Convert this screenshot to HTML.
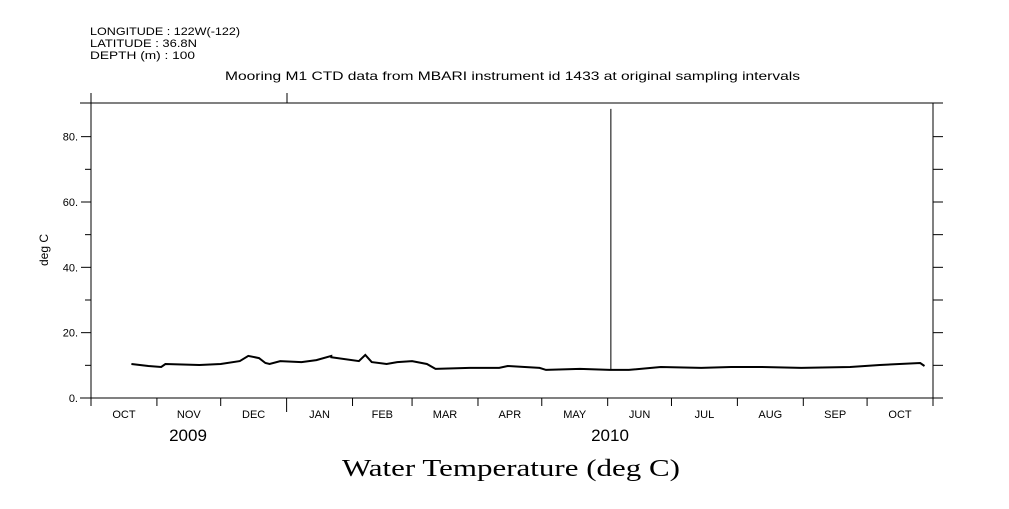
<!DOCTYPE html>
<html><head><meta charset="utf-8"><style>
body{margin:0;background:#fff}
svg text{font-family:"Liberation Sans",sans-serif;fill:#000}
</style></head><body>
<svg id="chart" width="1009" height="504" viewBox="0 0 1009 504" xmlns="http://www.w3.org/2000/svg">
<rect width="1009" height="504" fill="#fff"/>
<g id="hdr" font-size="11">
<text x="90" y="35" textLength="150" lengthAdjust="spacingAndGlyphs">LONGITUDE : 122W(-122)</text>
<text x="90" y="47" textLength="107" lengthAdjust="spacingAndGlyphs">LATITUDE : 36.8N</text>
<text x="90" y="59" textLength="105" lengthAdjust="spacingAndGlyphs">DEPTH (m) : 100</text>
<text x="225" y="80" textLength="575" lengthAdjust="spacingAndGlyphs" font-size="12">Mooring M1 CTD data from MBARI instrument id 1433 at original sampling intervals</text>
</g>
<text x="342" y="476" textLength="338" lengthAdjust="spacingAndGlyphs" font-size="24" style="font-family:'Liberation Serif',serif">Water Temperature (deg C)</text>
<text transform="translate(48,250) rotate(-90)" text-anchor="middle" font-size="12">deg C</text>
<g id="axes" stroke="#000" stroke-width="1" fill="none"></g>
<g id="labels" font-size="11"></g>
<polyline id="series" fill="none" stroke="#000" stroke-width="2"/>
<line id="spike" stroke="#000" stroke-width="1"/>
</svg>
<script>
const months=["OCT","NOV","DEC","JAN","FEB","MAR","APR","MAY","JUN","JUL","AUG","SEP","OCT"];
const monthDays=[31,30,31,31,28,31,30,31,30,31,31,30,31];
const yTicks=[0,20,40,60,80];
const years=["2009","2010"];
const days=[19,27,33,35,51,61,70,74,79,82,84,89,99,106,113,113,126,129,132,139,144,151,158,162,178,192,196,204,211,214,230,244,253,268,287,301,315,334,357,371,390,392];
const temps=[10.4,9.8,9.5,10.4,10.1,10.4,11.3,12.9,12.2,10.7,10.4,11.3,11.0,11.6,12.9,12.5,11.3,13.2,11.0,10.4,11.0,11.3,10.4,8.9,9.2,9.2,9.8,9.5,9.2,8.6,8.9,8.6,8.6,9.5,9.2,9.5,9.5,9.2,9.5,10.1,10.7,9.8];
const spikeDay=244.5, spikeVal=88.5;
const X0=91,X1=933,Y0=398,Y1=103,TOTAL=396,YMAX=90.3;
const xs=d=>X0+d*(X1-X0)/TOTAL;
const ys=v=>Y0-v*(Y0-Y1)/YMAX;
const NS="http://www.w3.org/2000/svg";
const ax=document.getElementById('axes'),lb=document.getElementById('labels');
function ln(x1,y1,x2,y2,name){const l=document.createElementNS(NS,'line');l.setAttribute('x1',x1);l.setAttribute('y1',y1);l.setAttribute('x2',x2);l.setAttribute('y2',y2);


ax.appendChild(l);}
function tx(x,y,s,name,anchor,size){const t=document.createElementNS(NS,'text');t.setAttribute('x',x);t.setAttribute('y',y);t.setAttribute('text-anchor',anchor||'middle');if(size)t.setAttribute('font-size',size);t.textContent=s;


lb.appendChild(t);}
ln(80,Y0,943,Y0,'x-axis-bottom');ln(80,Y1,943,Y1,'x-axis-top');ln(X0,Y1,X0,Y0,'y-axis-left');ln(X1,Y1,X1,Y0,'y-axis-right');
ln(X0,Y1,X0,Y1-10,'top-tick');ln(287,Y1,287,Y1-10,'top-tick');
for(let v=0;v<=80;v+=10){const y=ys(v);const major=v%20===0;ln(X0-(major?10:6),y,X0,y,'y-tick');ln(X1,y,X1+10,y,'y-tick-right');}
yTicks.forEach(v=>tx(X0-13,ys(v)+4,v+'.','y-tick-label','end'));
let d=0;
months.forEach((m,i)=>{const x=xs(d);ln(x,Y0,x,Y0+(i===3?14:8),'x-tick');tx(xs(d+monthDays[i]/2),Y0+20,m,'x-tick-label');d+=monthDays[i];});
ln(xs(d),Y0,xs(d),Y0+8,'x-tick');
tx(188,441,years[0],'year-label','middle',17);tx(610,441,years[1],'year-label','middle',17);
document.getElementById('series').setAttribute('points',days.map((dd,i)=>xs(dd).toFixed(1)+','+ys(temps[i]).toFixed(1)).join(' '));
const sp=document.getElementById('spike');const si=days.findIndex(q=>q>=spikeDay);
sp.setAttribute('x1',xs(spikeDay));sp.setAttribute('x2',xs(spikeDay));sp.setAttribute('y1',ys(temps[si]));sp.setAttribute('y2',ys(spikeVal));
</script>
</body></html>
